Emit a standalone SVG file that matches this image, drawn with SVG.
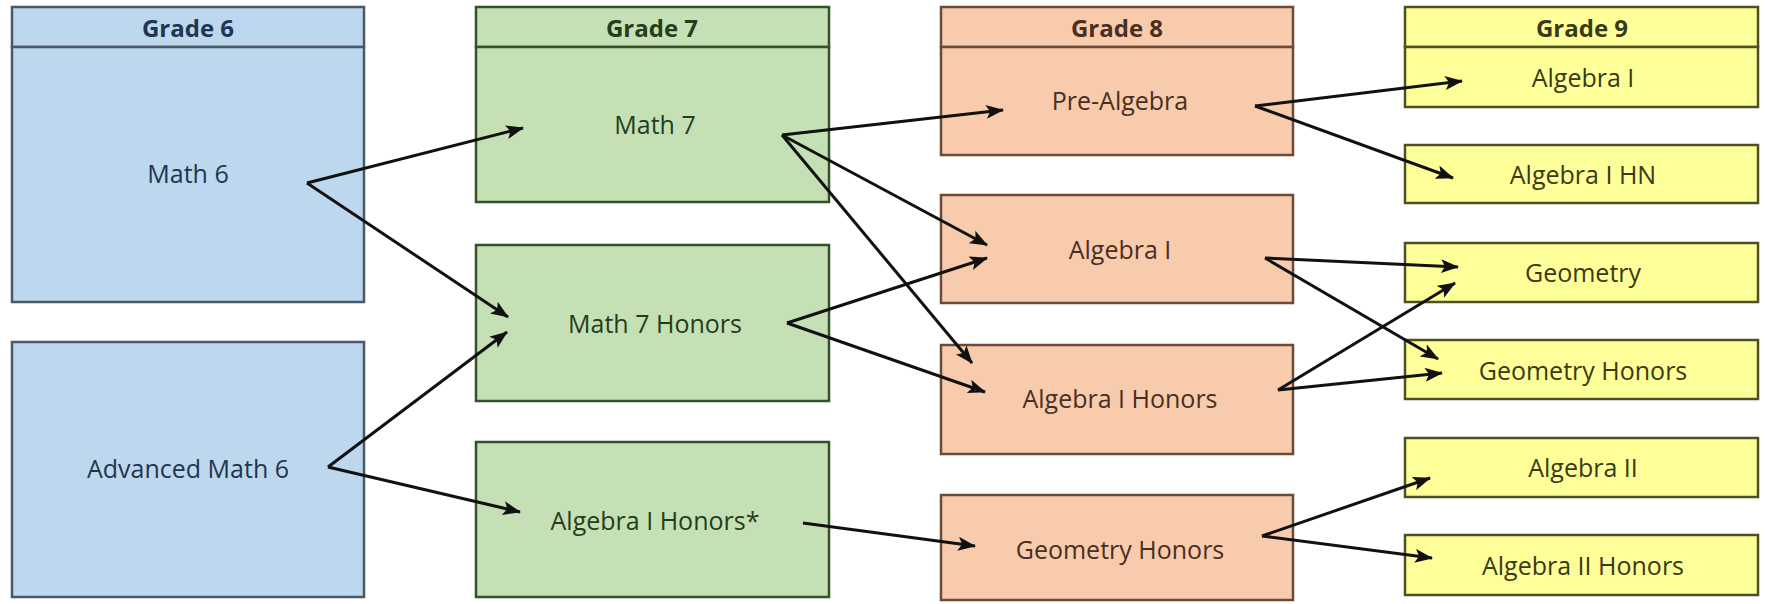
<svg xmlns="http://www.w3.org/2000/svg" width="1770" height="604" viewBox="0 0 1770 604">
<style>
  text { font-family: "Open Sans", "Liberation Sans", sans-serif; font-size: 25px; text-anchor: middle; dominant-baseline: central; }
  .hdr { font-weight: bold; font-size: 24px; }
  .g6 rect { fill: #bdd7ee; stroke: #4a5868; stroke-width: 2.5; }
  .g6 text { fill: #1f3550; }
  .g7 rect { fill: #c5e0b4; stroke: #36512a; stroke-width: 2.5; }
  .g7 text { fill: #243d1c; }
  .g8 rect { fill: #f8cbad; stroke: #6b4a3a; stroke-width: 2.5; }
  .g8 text { fill: #4a2e22; }
  .g9 rect { fill: #ffff99; stroke: #4f4f26; stroke-width: 2.5; }
  .g9 text { fill: #3a3a14; }
  .edges line { stroke: #111111; stroke-width: 3; marker-end: url(#arr); }
</style>
<defs>
  <marker id="arr" markerUnits="userSpaceOnUse" markerWidth="18" markerHeight="14" refX="17" refY="7" orient="auto">
    <path d="M0,0 L18,7 L0,14 L4,7 Z" fill="#111111"/>
  </marker>
</defs>
<rect x="0" y="0" width="1770" height="604" fill="#ffffff"/>

<!-- Grade 6 -->
<g id="grade6-header" class="g6"><rect x="12" y="7" width="352" height="40"/><text class="hdr" x="188" y="27">Grade 6</text></g>
<g id="math6" class="g6"><rect x="12" y="47" width="352" height="255"/><text x="188" y="173">Math 6</text></g>
<g id="advmath6" class="g6"><rect x="12" y="342" width="352" height="255"/><text x="188" y="468">Advanced Math 6</text></g>

<!-- Grade 7 -->
<g id="grade7-header" class="g7"><rect x="476" y="7" width="353" height="40"/><text class="hdr" x="652" y="27">Grade 7</text></g>
<g id="math7" class="g7"><rect x="476" y="47" width="353" height="155"/><text x="655" y="124">Math 7</text></g>
<g id="math7h" class="g7"><rect x="476" y="245" width="353" height="156"/><text x="655" y="323">Math 7 Honors</text></g>
<g id="alg1h7" class="g7"><rect x="476" y="442" width="353" height="155"/><text x="655" y="520">Algebra I Honors*</text></g>

<!-- Grade 8 -->
<g id="grade8-header" class="g8"><rect x="941" y="7" width="352" height="40"/><text class="hdr" x="1117" y="27">Grade 8</text></g>
<g id="prealg" class="g8"><rect x="941" y="47" width="352" height="108"/><text x="1120" y="100">Pre-Algebra</text></g>
<g id="alg1-8" class="g8"><rect x="941" y="195" width="352" height="108"/><text x="1120" y="249">Algebra I</text></g>
<g id="alg1h8" class="g8"><rect x="941" y="345" width="352" height="109"/><text x="1120" y="398">Algebra I Honors</text></g>
<g id="geoh8" class="g8"><rect x="941" y="495" width="352" height="105"/><text x="1120" y="549">Geometry Honors</text></g>

<!-- Grade 9 -->
<g id="grade9-header" class="g9"><rect x="1405" y="7" width="353" height="40"/><text class="hdr" x="1582" y="27">Grade 9</text></g>
<g id="alg1-9" class="g9"><rect x="1405" y="47" width="353" height="60"/><text x="1583" y="77">Algebra I</text></g>
<g id="alg1hn" class="g9"><rect x="1405" y="145" width="353" height="58"/><text x="1583" y="174">Algebra I HN</text></g>
<g id="geo9" class="g9"><rect x="1405" y="243" width="353" height="59"/><text x="1583" y="272">Geometry</text></g>
<g id="geoh9" class="g9"><rect x="1405" y="340" width="353" height="59"/><text x="1583" y="370">Geometry Honors</text></g>
<g id="alg2" class="g9"><rect x="1405" y="438" width="353" height="59"/><text x="1583" y="467">Algebra II</text></g>
<g id="alg2h" class="g9"><rect x="1405" y="535" width="353" height="60"/><text x="1583" y="565">Algebra II Honors</text></g>

<!-- Connectors -->
<g id="connectors" class="edges">
  <line x1="307" y1="183" x2="523" y2="128"/>
  <line x1="307" y1="183" x2="508" y2="317"/>
  <line x1="328" y1="467" x2="507" y2="332"/>
  <line x1="328" y1="467" x2="520" y2="512"/>
  <line x1="782" y1="135" x2="1003" y2="110"/>
  <line x1="782" y1="135" x2="987" y2="245"/>
  <line x1="782" y1="135" x2="972" y2="363"/>
  <line x1="787" y1="323" x2="987" y2="258"/>
  <line x1="787" y1="323" x2="985" y2="392"/>
  <line x1="803" y1="523" x2="975" y2="546"/>
  <line x1="1255" y1="106" x2="1462" y2="81"/>
  <line x1="1255" y1="106" x2="1453" y2="178"/>
  <line x1="1265" y1="258" x2="1458" y2="267"/>
  <line x1="1265" y1="258" x2="1438" y2="359"/>
  <line x1="1278" y1="390" x2="1455" y2="283"/>
  <line x1="1278" y1="390" x2="1442" y2="373"/>
  <line x1="1262" y1="536" x2="1430" y2="478"/>
  <line x1="1262" y1="536" x2="1432" y2="558"/>
</g>
</svg>
